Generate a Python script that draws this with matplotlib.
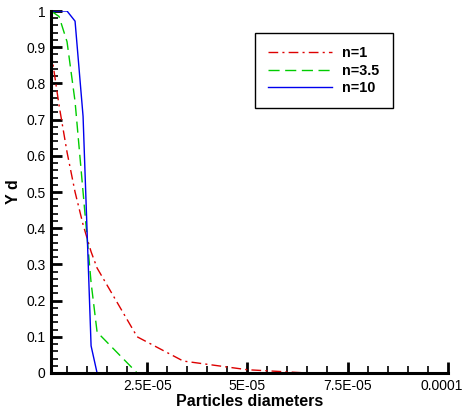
import matplotlib
matplotlib.use("Agg")
import matplotlib.pyplot as plt
import matplotlib.transforms as mtransforms
from matplotlib.ticker import MultipleLocator, FixedLocator, FixedFormatter

plt.rcParams['font.family'] = ['Liberation Sans', 'DejaVu Sans']

# Particle diameters (m)
diam = [1e-6, 3e-6, 5e-6, 7e-6, 9e-6, 1.1e-5, 1.25e-5, 2.25e-5, 3.4e-5, 5e-5, 6.5e-5]
yd_n1 = [0.89, 0.74, 0.61, 0.50, 0.41, 0.335, 0.29, 0.10, 0.033, 0.009, 0.0]
yd_n35 = [1.0, 0.985, 0.915, 0.75, 0.50, 0.25, 0.113, 0.0]
yd_n10 = [1.0, 1.0, 1.0, 0.972, 0.709, 0.075, 0.0]
labels = ["n=1", "n=3.5", "n=10"]

xticks = [2.5e-5, 5e-5, 7.5e-5, 1e-4]
xticklabels = ["2.5E-05", "5E-05", "7.5E-05", "0.0001"]
yticks = [0, 0.1, 0.2, 0.3, 0.4, 0.5, 0.6, 0.7, 0.8, 0.9, 1]
yticklabels = ["0", "0.1", "0.2", "0.3", "0.4", "0.5", "0.6", "0.7", "0.8", "0.9", "1"]

fig = plt.figure(figsize=(4.68, 4.08), dpi=100)
ax = fig.add_axes([0.109, 0.0858, 0.8476, 0.8872])

l1, = ax.plot(diam[:len(yd_n1)], yd_n1, color='#dd0000', lw=1.0,
              linestyle=(0, (7, 3, 1.5, 3)), label=labels[0])
l2, = ax.plot(diam[:len(yd_n35)], yd_n35, color='#00cc00', lw=1.0,
              linestyle=(0, (8, 4)), label=labels[1])
l3, = ax.plot(diam[:len(yd_n10)], yd_n10, color='#0000ee', lw=1.0,
              linestyle='-', label=labels[2])

ax.set_xlim(1e-6, 1e-4)
ax.set_ylim(0, 1)

ax.xaxis.set_major_locator(FixedLocator(xticks))
ax.xaxis.set_major_formatter(FixedFormatter(xticklabels))
ax.xaxis.set_minor_locator(MultipleLocator(5e-6))
ax.yaxis.set_major_locator(FixedLocator(yticks))
ax.yaxis.set_major_formatter(FixedFormatter(yticklabels))
ax.yaxis.set_minor_locator(MultipleLocator(0.02))

ax.tick_params(which='major', direction='in', length=8, width=2, labelsize=10, pad=4)
ax.tick_params(which='minor', direction='in', length=5, width=1.2)

for s in ['top', 'right']:
    ax.spines[s].set_visible(False)
for s in ['left', 'bottom']:
    ax.spines[s].set_linewidth(2.2)

ax.set_xlabel("Particles diameters", fontsize=11.5, fontweight='bold', labelpad=1)
ax.set_ylabel("Y d", fontsize=11.5, fontweight='bold', labelpad=4)

leg = ax.legend(handles=[l1, l2, l3], loc='upper left',
                bbox_to_anchor=(0.545, 0.918), bbox_transform=fig.transFigure,
                fancybox=False, frameon=True, edgecolor='black', framealpha=1,
                prop={'weight': 'bold', 'size': 10.4},
                handlelength=4.4, handletextpad=0.75, labelspacing=0.22,
                borderpad=0.9, borderaxespad=0)
leg.get_frame().set_linewidth(1.0)

# keep the last x tick label inside the figure
fig.canvas.draw()
last = ax.xaxis.get_major_ticks()[-1].label1
last.set_transform(last.get_transform() +
                   mtransforms.ScaledTranslation(-6 / 100, 0, fig.dpi_scale_trans))

fig.savefig("out.png", dpi=100)
